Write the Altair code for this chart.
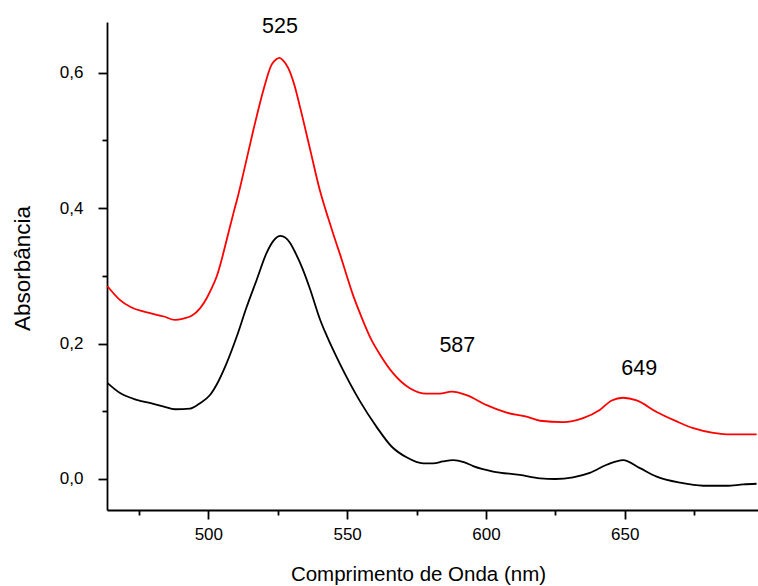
import altair as alt
import pandas as pd

# Red spectrum
red_nm = [463.6, 468, 472, 479, 484, 488, 491, 494, 497, 499.4, 501, 503, 504.2, 506.6, 509,
          510.5, 512.6, 516.2, 519.8, 522.8, 524.5, 525.6, 527, 528.8, 531, 533, 536.6, 540.2,
          543.2, 545, 547.5, 549.8, 552, 554.6, 558.8, 561.8, 566.6, 572.6, 578.6, 583.4, 587.6,
          593, 600.3, 607.5, 614.7, 619.5, 627.8, 635, 641, 645.3, 649.4, 654.3, 661.5, 668.7,
          674.7, 681.9, 686.7, 697.5]
red_abs = [0.285, 0.265, 0.254, 0.245, 0.240, 0.235, 0.237, 0.241, 0.252, 0.267, 0.280, 0.299,
           0.315, 0.353, 0.392, 0.415, 0.451, 0.515, 0.574, 0.612, 0.620, 0.622, 0.618, 0.607,
           0.582, 0.550, 0.488, 0.426, 0.385, 0.362, 0.331, 0.301, 0.273, 0.245, 0.205, 0.184,
           0.156, 0.134, 0.126, 0.126, 0.129, 0.124, 0.109, 0.098, 0.092, 0.086, 0.084, 0.090,
           0.102, 0.116, 0.120, 0.116, 0.099, 0.085, 0.075, 0.068, 0.066, 0.066]

# Black spectrum
black_nm = [463.6, 468.2, 474.2, 480.2, 484, 488, 493.4, 497, 500.6, 503.6, 506.6, 510.2, 513.8,
            517.4, 521, 523.5, 526, 529.4, 531.5, 534, 536.6, 540.2, 542.6, 547.4, 554.6, 560.6,
            566, 571.4, 577.4, 581, 584.5, 588.2, 592, 595.4, 602.6, 612.2, 619.5, 625, 631.4,
            637.4, 643.5, 649.4, 655.5, 661.5, 669.9, 678.3, 686.7, 692.7, 697.5]
black_abs = [0.142, 0.127, 0.117, 0.111, 0.107, 0.103, 0.104, 0.112, 0.124, 0.144, 0.171, 0.210,
             0.254, 0.294, 0.334, 0.352, 0.359, 0.349, 0.333, 0.310, 0.281, 0.236, 0.212, 0.170,
             0.115, 0.077, 0.048, 0.032, 0.023, 0.023, 0.026, 0.028, 0.025, 0.019, 0.011, 0.006,
             0.001, 0.000, 0.0025, 0.009, 0.021, 0.028, 0.016, 0.0035, -0.0055, -0.010, -0.010,
             -0.008, -0.007]

# Peak annotations
peak_labels = ["525", "587", "649"]
peak_label_nm = [525.8, 589.7, 655.2]
peak_label_abs = [0.667, 0.196, 0.163]

x_ticks = [475, 500, 525, 550, 575, 600, 625, 650, 675]
y_ticks = [0.0, 0.1, 0.2, 0.3, 0.4, 0.5, 0.6]

x_domain = [463.5, 698]
y_domain = [-0.0458, 0.675]

df = pd.concat([
    pd.DataFrame({"nm": red_nm, "abs": red_abs, "serie": "red"}),
    pd.DataFrame({"nm": black_nm, "abs": black_abs, "serie": "black"}),
], ignore_index=True)
ann = pd.DataFrame({"label": peak_labels, "nm": peak_label_nm, "abs": peak_label_abs})

FONT = "Liberation Sans"
xs = alt.Scale(domain=x_domain, nice=False, zero=False)
ys = alt.Scale(domain=y_domain, nice=False, zero=False)

x_major = "datum.value % 50 === 0"
y_major = "round(datum.value * 10) % 2 === 0"

lines = alt.Chart(df).mark_line(strokeWidth=1.8, clip=True, interpolate="monotone").encode(
    x=alt.X("nm:Q", scale=xs, axis=alt.Axis(
        values=x_ticks,
        tickSize={"condition": {"test": x_major, "value": 9}, "value": 5},
        tickWidth=1.8, domainWidth=1.8, labelFontSize=17, labelPadding=7,
        labelExpr=f"{x_major} ? datum.label : ''",
        title="Comprimento de Onda (nm)", titleFontSize=20.5,
        titleFontWeight="normal", titleX=311, titleY=70, titleBaseline="alphabetic",
        titleAnchor="start", titleAlign="center", orient="bottom", grid=False)),
    y=alt.Y("abs:Q", scale=ys, axis=alt.Axis(
        values=y_ticks,
        tickSize={"condition": {"test": y_major, "value": 9}, "value": 5},
        tickWidth=1.8, domainWidth=1.8, labelFontSize=17, labelPadding=15,
        labelExpr=f"{y_major} ? replace(format(datum.value, '.1f'), '.', ',') : ''",
        title="Absorbância", titleFontSize=22.5, titleFontWeight="normal",
        titleX=-85, titleY=246, titleAlign="center", titleBaseline="middle",
        titleAngle=270, orient="left", grid=False)),
    color=alt.Color("serie:N", scale=alt.Scale(domain=["red", "black"],
                                                range=["#ff0000", "#000000"]), legend=None),
    detail="serie:N",
)

text = alt.Chart(ann).mark_text(fontSize=21.5, font=FONT, color="black").encode(
    x=alt.X("nm:Q", scale=xs),
    y=alt.Y("abs:Q", scale=ys),
    text="label:N",
)

chart = alt.layer(lines, text).properties(
    width=651, height=488,
    background="white",
    autosize=alt.AutoSizeParams(type="none"),
    padding={"left": 107, "top": 22, "right": 0, "bottom": 76},
).configure_view(stroke=None, strokeWidth=0).configure_axis(
    domainColor="black", tickColor="black", labelColor="black", titleColor="black",
    labelFont=FONT, titleFont=FONT, grid=False
)

chart.save("out.html", embed_options={"renderer": "svg", "actions": False})
